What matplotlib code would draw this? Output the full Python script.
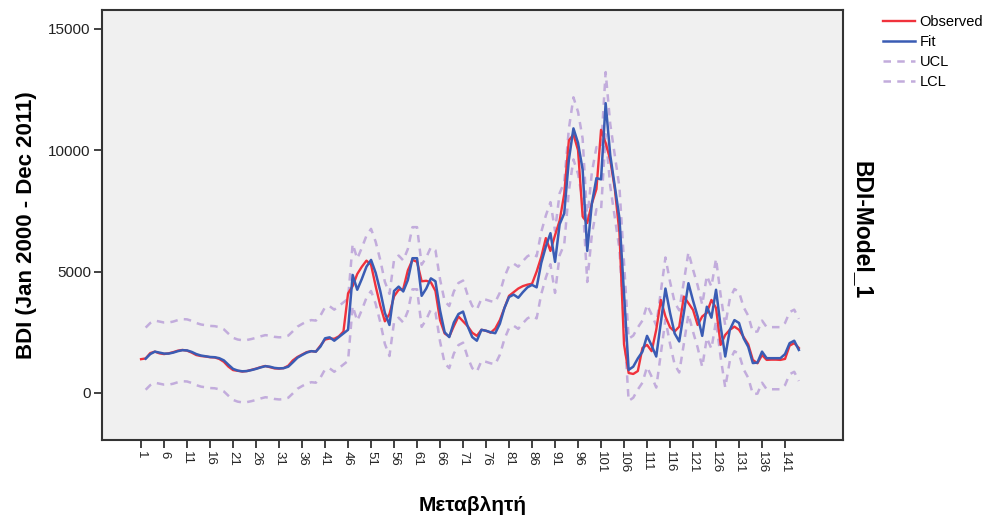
# -*- coding: utf-8 -*-

# Importing Libraries
import numpy as np
import matplotlib
matplotlib.use('Agg')
import matplotlib.pyplot as plt

plt.rcParams['font.family'] = ['Liberation Sans', 'DejaVu Sans']

# BDI monthly values, Jan 2000 - Dec 2011
months = np.arange(1, 145)

observed = [1390, 1420, 1640, 1700, 1630, 1600, 1630, 1680, 1740, 1770,
            1740, 1660, 1560, 1520, 1500, 1470, 1460, 1400, 1280, 1080,
            940, 910, 880, 900, 950, 1000, 1060, 1110, 1060, 1010,
            1000, 1020, 1120, 1340, 1480, 1580, 1680, 1720, 1700, 1950,
            2200, 2240, 2230, 2330, 2530, 4100, 4400, 4900, 5200, 5450,
            5280, 4400, 3600, 2950, 3250, 3980, 4250, 4280, 5050, 5480,
            5400, 4600, 4620, 4560, 4200, 3000, 2450, 2320, 2750, 3150,
            2950, 2750, 2480, 2350, 2600, 2560, 2480, 2650, 3000, 3500,
            4000, 4150, 4300, 4400, 4460, 4500, 5000, 5600, 6380, 5850,
            6500, 7100, 8200, 10400, 10650, 10000, 7270, 7000, 7800, 8400,
            10840, 10300, 9600, 8400, 6600, 2000, 820, 780, 900, 1850,
            1980, 1720, 2600, 3830, 3150, 2700, 2530, 2730, 3970, 3700,
            3420, 2800, 3150, 3300, 3830, 3500, 1980, 2390, 2600, 2730,
            2600, 2300, 2000, 1360, 1220, 1560, 1360, 1370, 1370, 1360,
            1400, 1950, 2050, 1850]

fit = [np.nan, 1410, 1600, 1700, 1660, 1620, 1620, 1660, 1720, 1760,
       1750, 1690, 1600, 1540, 1510, 1480, 1470, 1430, 1340, 1160,
       990, 920, 890, 900, 940, 990, 1050, 1100, 1080, 1030,
       1010, 1020, 1080, 1260, 1450, 1560, 1660, 1720, 1700, 1910,
       2250, 2290, 2150, 2300, 2450, 2600, 4860, 4250, 4700, 5200,
       5480, 4950, 4200, 3300, 2800, 4200, 4380, 4180, 4650, 5550,
       5550, 4000, 4300, 4720, 4600, 3400, 2500, 2300, 2900, 3250,
       3350, 2750, 2300, 2150, 2600, 2560, 2500, 2460, 2850, 3500,
       3950, 4050, 3920, 4150, 4350, 4450, 4350, 5350, 6030, 6580,
       5400, 6950, 7400, 9600, 10900, 10300, 9200, 5850, 7800, 8850,
       8800, 11940, 9800, 8500, 7200, 4100, 950, 1080, 1420, 1700,
       2350, 1950, 1500, 2900, 4300, 3300, 2450, 2120, 3300, 4520,
       3800, 3150, 2350, 3550, 3100, 4250, 2750, 1500, 2600, 3000,
       2880, 2250, 1900, 1230, 1250, 1700, 1430, 1430, 1430, 1430,
       1600, 2050, 2150, 1770]

ucl = [np.nan, 2690, 2880, 2980, 2940, 2900, 2900, 2940, 3000, 3040,
       3030, 2970, 2880, 2820, 2790, 2760, 2750, 2710, 2620, 2440,
       2270, 2200, 2170, 2180, 2220, 2270, 2330, 2380, 2360, 2310,
       2290, 2300, 2360, 2540, 2730, 2840, 2940, 3000, 2980, 3190,
       3530, 3570, 3430, 3580, 3730, 3880, 6140, 5530, 5980, 6480,
       6760, 6230, 5480, 4580, 4080, 5480, 5660, 5460, 5930, 6830,
       6830, 5280, 5580, 6000, 5880, 4680, 3780, 3580, 4180, 4530,
       4630, 4030, 3580, 3430, 3880, 3840, 3780, 3740, 4130, 4780,
       5230, 5330, 5200, 5430, 5630, 5730, 5630, 6630, 7310, 7860,
       6680, 8230, 8680, 10880, 12180, 11580, 10480, 7130, 9080, 10130,
       10080, 13220, 11080, 9780, 8480, 5380, 2230, 2360, 2700, 2980,
       3630, 3230, 2780, 4180, 5580, 4580, 3730, 3400, 4580, 5800,
       5080, 4430, 3630, 4830, 4380, 5530, 4030, 2780, 3880, 4280,
       4160, 3530, 3180, 2510, 2530, 2980, 2710, 2710, 2710, 2710,
       2880, 3330, 3430, 3050]

lcl = [np.nan, 130, 320, 420, 380, 340, 340, 380, 440, 480,
       470, 410, 320, 260, 230, 200, 190, 150, 60, -120,
       -290, -360, -390, -380, -340, -290, -230, -180, -200, -250,
       -270, -260, -200, -20, 170, 280, 380, 440, 420, 630,
       970, 1010, 870, 1020, 1170, 1320, 3580, 2970, 3420, 3920,
       4200, 3670, 2920, 2020, 1520, 2920, 3100, 2900, 3370, 4270,
       4270, 2720, 3020, 3440, 3320, 2120, 1220, 1020, 1620, 1970,
       2070, 1470, 1020, 870, 1320, 1280, 1220, 1180, 1570, 2220,
       2670, 2770, 2640, 2870, 3070, 3170, 3070, 4070, 4750, 5300,
       4120, 5670, 6120, 8320, 9620, 9020, 7920, 4570, 6520, 7570,
       7520, 10660, 8520, 7220, 5920, 2820, -330, -200, 140, 420,
       1070, 670, 220, 1620, 3020, 2020, 1170, 840, 2020, 3240,
       2520, 1870, 1070, 2270, 1820, 2970, 1470, 220, 1320, 1720,
       1600, 970, 620, -50, -30, 420, 150, 150, 150, 150,
       320, 770, 870, 490]

xtick_pos = np.arange(1, 145, 5)
ytick_pos = [0, 5000, 10000, 15000]

# Plotting
fig = plt.figure(figsize=(9.9, 5.17), dpi=100)
ax = fig.add_axes([0.103, 0.149, 0.7485, 0.8317])
ax.set_facecolor('#f0f0f0')

band_color = '#c2acdc'
ax.plot(months, ucl, color=band_color, lw=1.8, dashes=(3, 2.5), label='UCL', zorder=2)
ax.plot(months, lcl, color=band_color, lw=1.8, dashes=(3, 2.5), label='LCL', zorder=2)
ax.plot(months, observed, color='#f0323c', lw=1.7, label='Observed', zorder=3)
ax.plot(months, fit, color='#3a5cb4', lw=1.8, label='Fit', zorder=4)

ax.set_xlim(-7.5, 153.6)
ax.set_ylim(-1940, 15780)

ax.set_xticks(xtick_pos)
ax.set_xticklabels([str(v) for v in xtick_pos], rotation=270, fontsize=9.5, color='#222222')
ax.set_yticks(ytick_pos)
ax.set_yticklabels([str(v) for v in ytick_pos], fontsize=11, color='#222222')
ax.tick_params(axis='both', direction='out', length=6, width=1.3, color='#333333', pad=2)

for s in ax.spines.values():
    s.set_color('#333333')
    s.set_linewidth(1.5)

ax.set_xlabel('Μεταβλητή', fontsize=15, fontweight='bold', labelpad=16)
ax.set_ylabel('BDI (Jan 2000 - Dec 2011)', fontsize=16, fontweight='bold', labelpad=8)
fig.text(0.871, 0.555, 'BDI-Model_1', rotation=270, fontsize=16.5, fontweight='bold',
         ha='center', va='center')

# Legend outside the plot area, top right
handles, labels = ax.get_legend_handles_labels()
order = [2, 3, 0, 1]
fig.legend([handles[i] for i in order], [labels[i] for i in order],
           loc='upper left', bbox_to_anchor=(0.886, 0.982), frameon=False,
           fontsize=10.5, handlelength=2.2, handletextpad=0.3, labelspacing=0.4,
           borderaxespad=0)

fig.savefig('out.png', dpi=100, facecolor='white')
